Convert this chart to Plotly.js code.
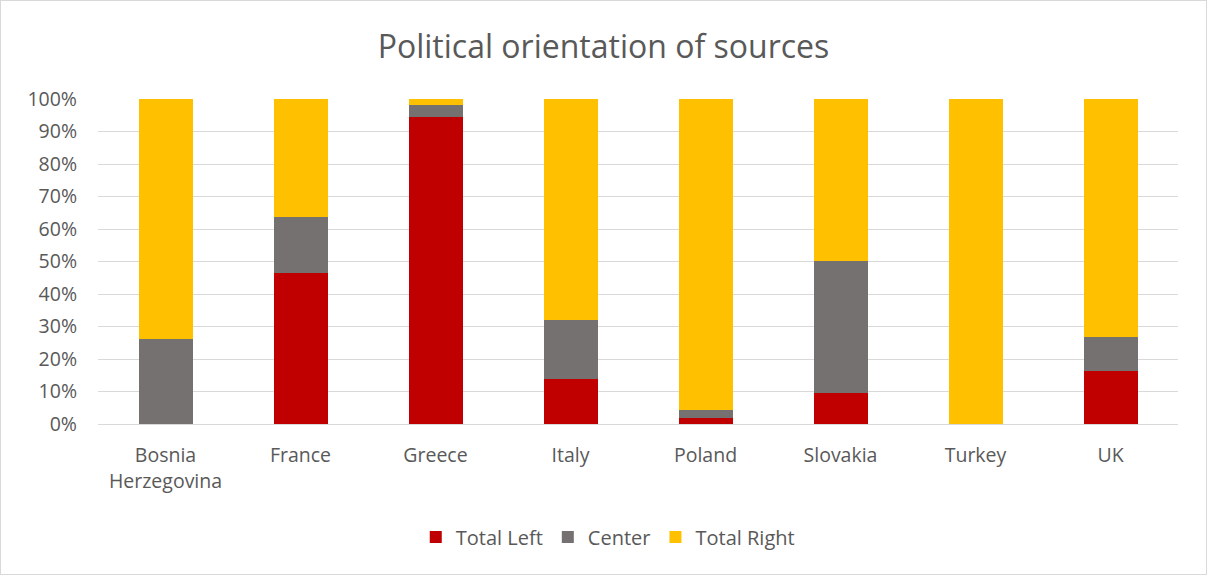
<!DOCTYPE html>
<html>
<head>
<meta charset="utf-8">
<script src="https://cdn.plot.ly/plotly-3.0.1.min.js"></script>
<style>
html,body{margin:0;padding:0;background:#fff;}
#chart{width:1207px;height:575px;}
#frame{position:absolute;left:0;top:0;width:1207px;height:575px;box-sizing:border-box;border:1px solid #d9d9d9;pointer-events:none;}
</style>
</head>
<body>
<div id="chart"></div>
<div id="frame"></div>
<script>
const categories = ["Bosnia<br>Herzegovina", "France", "Greece", "Italy", "Poland", "Slovakia", "Turkey", "UK"];
const totalLeft  = [0, 46.6, 94.6, 14.0, 1.7, 9.4, 0, 16.2];
const center     = [26.3, 17.0, 3.6, 17.9, 2.5, 40.7, 0, 10.6];
const totalRight = [73.7, 36.4, 1.8, 68.1, 95.8, 49.9, 100, 73.2];
const yTickVals  = [0, 10, 20, 30, 40, 50, 60, 70, 80, 90, 100];
const yTickText  = ["0%", "10%", "20%", "30%", "40%", "50%", "60%", "70%", "80%", "90%", "100%"];

const font = "Open Sans, Liberation Sans, sans-serif";
const traces = [
  {name: "Total Left", y: totalLeft, color: "#c00000"},
  {name: "Center", y: center, color: "#767171"},
  {name: "Total Right", y: totalRight, color: "#ffc000"}
].map(s => ({
  type: "bar", name: s.name, x: categories, y: s.y,
  marker: {color: s.color, line: {width: 0}},
  hoverinfo: "x+y+name"
}));

const layout = {
  width: 1207, height: 575,
  barmode: "stack", bargap: 0.6,
  margin: {l: 98, r: 29, t: 99, b: 151},
  paper_bgcolor: "#fff", plot_bgcolor: "#fff",
  font: {family: font, color: "#595959", size: 19},
  title: {text: "Political orientation of sources", x: 0.5, xanchor: "center", y: 0.918, yanchor: "middle",
          font: {family: font, size: 32, color: "#595959"}},
  xaxis: {type: "category", showgrid: false, showline: true, linecolor: "#d9d9d9", linewidth: 1,
          ticks: "", ticklabelstandoff: 14, tickfont: {size: 19.5, color: "#595959"}, automargin: false},
  yaxis: {range: [0, 100], tickvals: yTickVals, ticktext: yTickText, showgrid: true,
          gridcolor: "#d9d9d9", gridwidth: 1, zeroline: false, showline: false, ticks: "",
          ticklabelstandoff: 20, tickfont: {size: 19.5, color: "#595959"}, automargin: false},
  legend: {orientation: "h", x: 0.472, xanchor: "center", y: -0.348, yanchor: "middle",
           font: {size: 20, color: "#595959"}, traceorder: "normal", itemwidth: 30},
  showlegend: true
};

Plotly.newPlot("chart", traces, layout, {displayModeBar: false, staticPlot: true});
</script>
</body>
</html>
